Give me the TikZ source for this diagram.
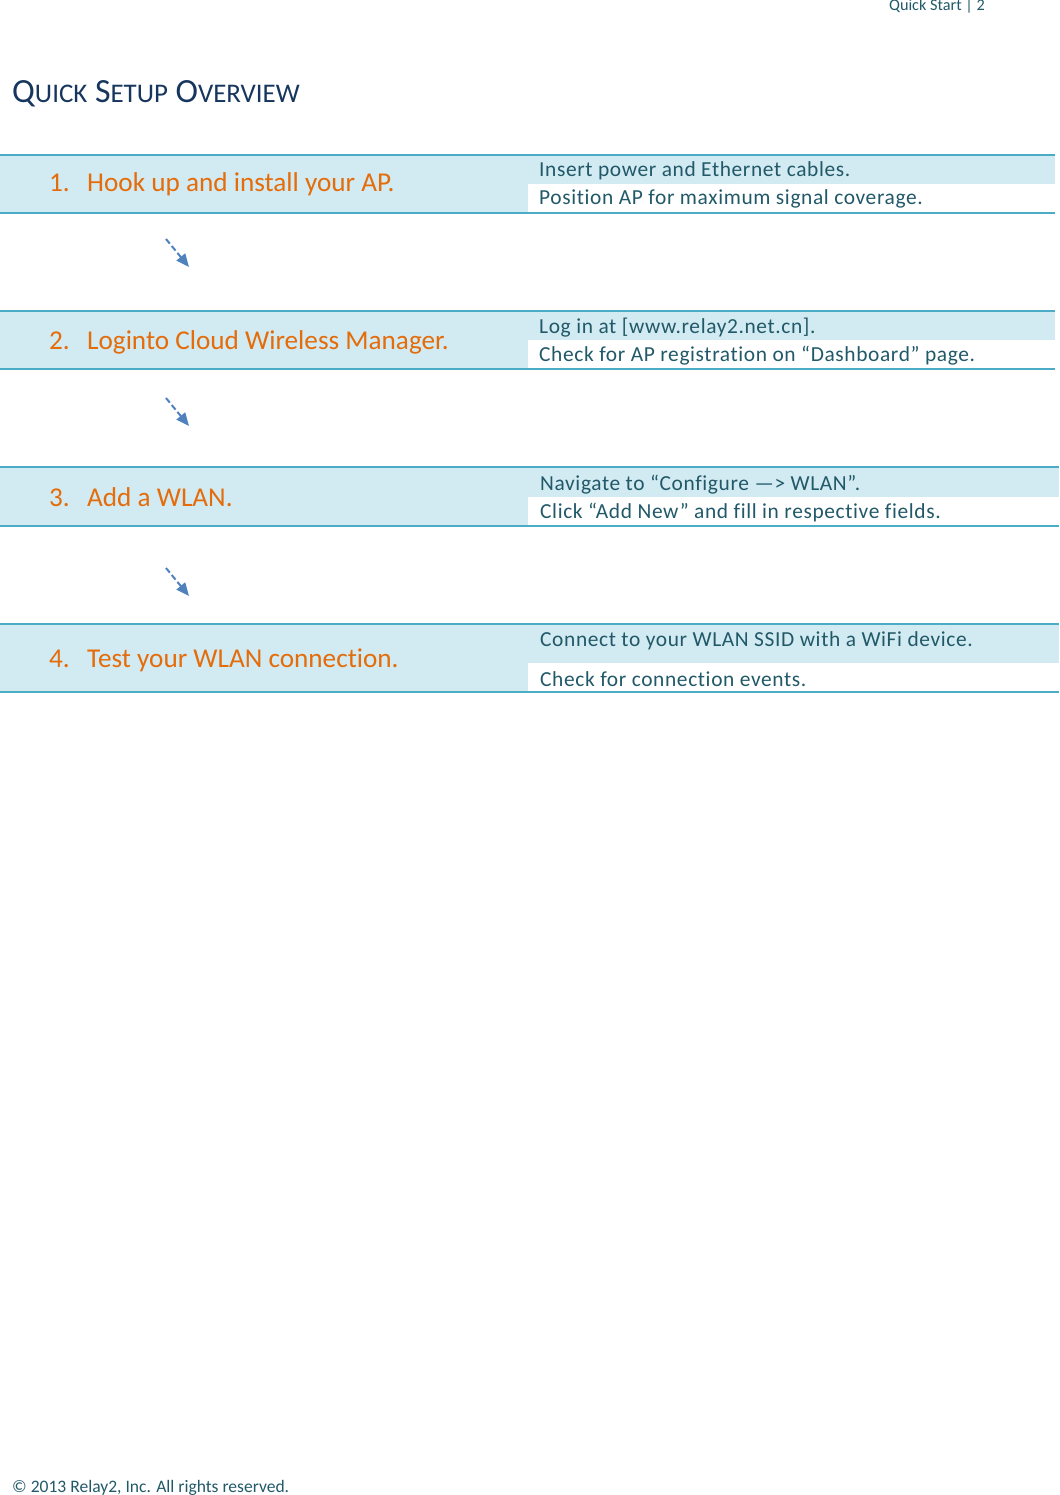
\documentclass[tikz,border=0pt]{standalone}
\usepackage{fontspec}
\setmainfont{Carlito}[Ligatures=NoCommon]
\usetikzlibrary{arrows.meta,positioning}

\definecolor{cellblue}{RGB}{210,234,241}
\definecolor{rulecyan}{RGB}{75,172,198}
\definecolor{steporange}{RGB}{228,108,10}
\definecolor{noteteal}{RGB}{33,89,104}
\definecolor{titleblue}{RGB}{23,54,93}
\definecolor{flowblue}{RGB}{79,129,189}

\newcommand{\fakesc}[1]{{\fontsize{27}{30}\selectfont #1}}

\tikzset{
    rule/.style={draw=rulecyan, line width=2bp},
    steptext/.style={anchor=base west, inner sep=0pt, text=steporange, font=\fontsize{27.3}{32}\selectfont},
    notetext/.style={anchor=base west, inner sep=0pt, text=noteteal, font=\fontsize{21.5}{24}\selectfont\addfontfeature{LetterSpace=2.9}},
    flow/.style={draw=flowblue, line width=2bp, dash pattern=on 6bp off 3bp, -{Triangle[length=13bp,width=11bp]}}
}

\begin{document}
\begin{tikzpicture}[x=1bp,y=-1bp]
    \useasboundingbox (0,0) rectangle (1059,1495);

    % Header and title.
    \node[anchor=base east, inner sep=0pt, text=noteteal, font=\fontsize{16.3}{18}\selectfont] (header) at (985,11) {Quick Start | 2};
    \node[anchor=base west, inner sep=0pt, text=titleblue, font=\fontsize{34}{36}\selectfont] (title) at (12,103)
        {Q\fakesc{UICK} S\fakesc{ETUP} O\fakesc{VERVIEW}};

    % Shade rows.
    \foreach \r/\ya/\ym/\yb/\xe in {1/155/184/213/1055, 2/311/340/369/1055, 3/467/497/526/1059, 4/624/663/692/1059} {
        \fill[cellblue] (0,\ya) rectangle (528,\yb);
        \fill[cellblue] (528,\ya) rectangle (\xe,\ym);
        \draw[rule] (0,\ya) -- (\xe,\ya);
        \draw[rule] (0,\yb) -- (\xe,\yb);
    }

    % Step titles.
    \node[steptext] (num1) at (49,192) {1.};
    \node[steptext] (step1) at (87,192) {Hook up and install your AP.};
    \node[steptext] (num2) at (49,349) {2.};
    \node[steptext] (step2) at (87,349) {Loginto Cloud Wireless Manager.};
    \node[steptext] (num3) at (49,506) {3.};
    \node[steptext] (step3) at (87,506) {Add a WLAN.};
    \node[steptext] (num4) at (49,667) {4.};
    \node[steptext] (step4) at (87,667) {Test your WLAN connection.};

    % Step notes.
    \node[notetext] (note1a) at (539,177) {Insert power and Ethernet cables.};
    \node[notetext] (note1b) at (539,205) {Position AP for maximum signal coverage.};
    \node[notetext] (note2a) at (539,333) {Log in at [www.relay2.net.cn].};
    \node[notetext] (note2b) at (539,361) {Check for AP registration on “Dashboard” page.};
    \node[notetext] (note3a) at (540,490) {Navigate to “Configure —> WLAN”.};
    \node[notetext] (note3b) at (540,518) {Click “Add New” and fill in respective fields.};
    \node[notetext] (note4a) at (540,646) {Connect to your WLAN SSID with a WiFi device.};
    \node[notetext] (note4b) at (540,686) {Check for connection events.};

    % Flow arrows.
    \foreach \i/\y in {1/239,2/398,3/568} {
        \coordinate (tail\i) at (166,\y);
        \coordinate (head\i) at (189,\y+28);
        \draw[flow] (tail\i) -- (head\i);
    }

    % Footer.
    \node[anchor=base west, inner sep=0pt, text=noteteal, font=\fontsize{17.6}{20}\selectfont] (footer) at (12,1492)
        {© 2013 Relay2, Inc. All rights reserved.};

\end{tikzpicture}
\end{document}
